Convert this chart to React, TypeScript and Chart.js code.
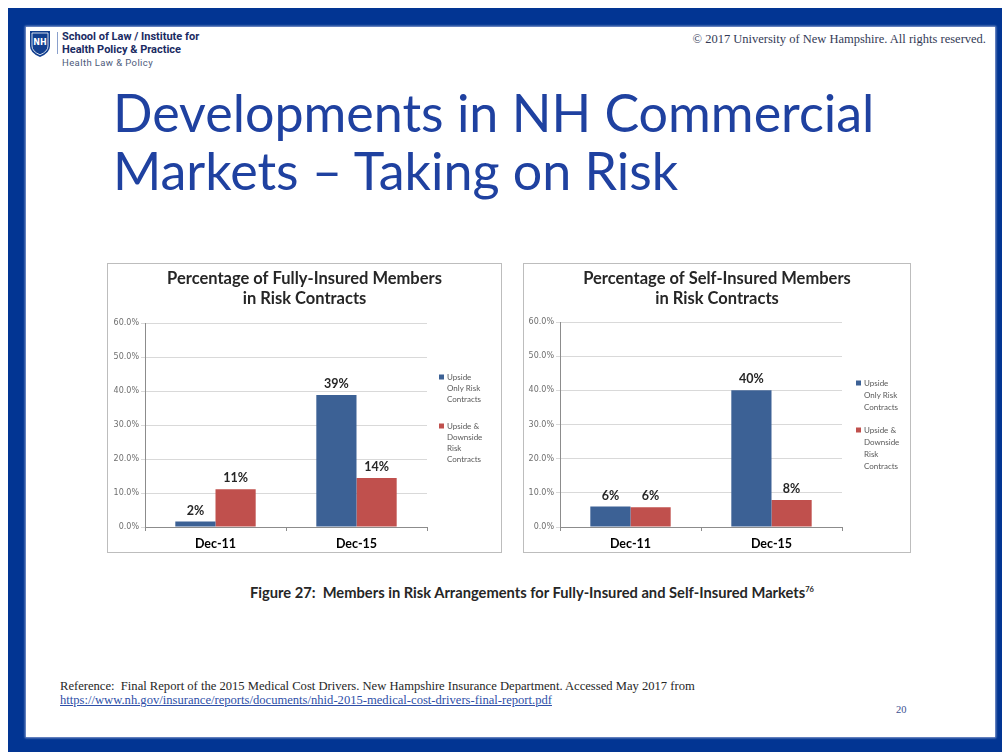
import React, { useEffect, useRef } from "react";
import { Chart, registerables } from "chart.js";

Chart.register(...registerables);

// ---------- data ----------
const categories = ["Dec-11", "Dec-15"];
const seriesNames = ["Upside Only Risk Contracts", "Upside & Downside Risk Contracts"];
const legendLinesOnly = ["Upside", "Only Risk", "Contracts"];
const legendLinesBoth = ["Upside &", "Downside", "Risk", "Contracts"];
const fullyUpsideOnly = [1.6, 38.8];
const fullyUpsideDownside = [11.1, 14.4];
const selfUpsideOnly = [6.0, 40.0];
const selfUpsideDownside = [5.8, 7.9];
const yMin = 0;
const yMax = 60;
const yStep = 10;
const fullyTitle = ["Percentage of Fully-Insured Members", "in Risk Contracts"];
const selfTitle = ["Percentage of Self-Insured Members", "in Risk Contracts"];

const BLUE = "#3c6195";
const RED = "#c0504d";
const FONT = "Lato, 'Open Sans', sans-serif";

type Geo = {
  width: number;
  height: number;
  plotLeft: number;
  plotRight: number;
  plotTop: number;
  xAxisH: number;
  legendX: number;
  legendItemY: number[];
  legendLH: number;
};

function makeDecor(title: string[], geo: Geo) {
  return {
    id: "decor",
    afterDraw(chart: any) {
      const ctx: CanvasRenderingContext2D = chart.ctx;
      ctx.save();
      // title
      ctx.fillStyle = "#262626";
      ctx.font = `bold 16.5px ${FONT}`;
      ctx.textAlign = "center";
      ctx.textBaseline = "alphabetic";
      title.forEach((line, i) => ctx.fillText(line, chart.width / 2, 20 + i * 20));
      // data labels
      ctx.font = `bold 12.5px ${FONT}`;
      chart.data.datasets.forEach((ds: any, di: number) => {
        const meta = chart.getDatasetMeta(di);
        meta.data.forEach((bar: any, i: number) => {
          ctx.fillText(Math.round(ds.data[i]) + "%", bar.x, bar.y - 7);
        });
      });
      // legend
      const items = [
        { color: BLUE, lines: legendLinesOnly },
        { color: RED, lines: legendLinesBoth },
      ];
      ctx.textAlign = "left";
      ctx.textBaseline = "middle";
      ctx.font = `8px ${FONT}`;
      items.forEach((it, k) => {
        const y0 = geo.legendItemY[k];
        ctx.fillStyle = it.color;
        ctx.fillRect(geo.legendX, y0 - 2.5, 5, 5);
        ctx.fillStyle = "#595959";
        it.lines.forEach((ln, j) => ctx.fillText(ln, geo.legendX + 8, y0 + j * geo.legendLH));
      });
      ctx.restore();
    },
  };
}

function buildConfig(title: string[], blue: number[], red: number[], geo: Geo): any {
  return {
    type: "bar",
    data: {
      labels: categories,
      datasets: [
        { label: seriesNames[0], data: blue, backgroundColor: BLUE, borderWidth: 0 },
        { label: seriesNames[1], data: red, backgroundColor: RED, borderWidth: 0 },
      ],
    },
    options: {
      responsive: false,
      animation: false,
      devicePixelRatio: 1,
      layout: {
        padding: {
          top: geo.plotTop,
          right: geo.width - geo.plotRight,
          bottom: 0,
          left: 0,
        },
      },
      datasets: { bar: { categoryPercentage: 0.57, barPercentage: 1 } },
      plugins: {
        legend: { display: false },
        title: { display: false },
        tooltip: { enabled: false },
      },
      scales: {
        x: {
          grid: {
            display: true,
            drawOnChartArea: false,
            drawTicks: true,
            tickLength: 4,
            color: "#8c8c8c",
            offset: true,
          },
          border: { display: true, color: "#8c8c8c" },
          ticks: {
            font: { family: FONT, size: 12.5, weight: "bold" },
            color: "#000000",
            padding: 5,
          },
          afterFit: (s: any) => {
            s.height = geo.xAxisH;
          },
        },
        y: {
          min: yMin,
          max: yMax,
          grid: { color: "#d9d9d9", tickLength: 4, drawTicks: true },
          border: { display: true, color: "#8c8c8c" },
          ticks: {
            stepSize: yStep,
            padding: 2,
            color: "#6e6e6e",
            font: { family: "'DejaVu Sans', sans-serif", size: 8 },
            callback: (v: any) => Number(v).toFixed(1) + "%",
          },
          afterFit: (s: any) => {
            s.width = geo.plotLeft;
          },
        },
      },
    },
    plugins: [makeDecor(title, geo)],
  };
}

function ChartBox(props: {
  left: number;
  top: number;
  geo: Geo;
  title: string[];
  blue: number[];
  red: number[];
}) {
  const ref = useRef<HTMLCanvasElement | null>(null);
  const { geo } = props;
  useEffect(() => {
    if (!ref.current) return;
    const chart = new Chart(ref.current, buildConfig(props.title, props.blue, props.red, geo));
    return () => chart.destroy();
  }, []);
  return (
    <div
      style={{
        position: "absolute",
        left: props.left,
        top: props.top,
        width: geo.width + 2,
        height: geo.height + 2,
        border: "1px solid #bdbdbd",
        boxSizing: "border-box",
        background: "#fff",
      }}
    >
      <canvas
        ref={ref}
        width={geo.width}
        height={geo.height}
        style={{ display: "block", width: geo.width, height: geo.height }}
      />
    </div>
  );
}

const leftGeo: Geo = {
  width: 393,
  height: 288,
  plotLeft: 37,
  plotRight: 319,
  plotTop: 59,
  xAxisH: 25,
  legendX: 331,
  legendItemY: [113, 162],
  legendLH: 11,
};

const rightGeo: Geo = {
  width: 386,
  height: 288,
  plotLeft: 36,
  plotRight: 318,
  plotTop: 58,
  xAxisH: 25,
  legendX: 332,
  legendItemY: [119, 166],
  legendLH: 12,
};

const abs = (s: React.CSSProperties): React.CSSProperties => ({
  position: "absolute",
  whiteSpace: "nowrap",
  margin: 0,
  ...s,
});

export default function App() {
  return (
    <div
      style={{
        position: "fixed",
        left: 0,
        top: 0,
        width: 1002,
        height: 752,
        background: "#ffffff",
        overflow: "hidden",
      }}
    >
      {/* blue frame */}
      <div style={abs({ left: 8, top: 8, width: 994, height: 744, background: "#023593" })} />
      <div
        style={abs({
          left: 26,
          top: 27,
          width: 969,
          height: 710,
          background: "#ffffff",
          boxShadow: "0 0 2px 1px #8ea3d0",
        })}
      />

      {/* logo */}
      <svg style={abs({ left: 30, top: 31 })} width={20} height={26} viewBox="0 0 20 26">
        <path d="M0 0 H20 V15 Q20 22 10 26 Q0 22 0 15 Z" fill="#123f8f" />
        <path d="M2 2 H18 V15 Q18 20.5 10 23.8 Q2 20.5 2 15 Z" fill="none" stroke="#ffffff" strokeWidth={0.8} />
        <text x={10} y={14} textAnchor="middle" fontFamily="'DejaVu Sans', sans-serif" fontWeight="bold" fontSize={8} fill="#ffffff">
          NH
        </text>
      </svg>
      <div style={abs({ left: 57, top: 32, width: 1, height: 22, background: "#8aa0cc" })} />
      <div
        style={abs({
          left: 62,
          top: 30,
          fontFamily: "'Liberation Sans Narrow', 'Roboto', sans-serif",
          fontWeight: "bold",
          fontSize: 11,
          lineHeight: "13px",
          color: "#1a2b63",
          letterSpacing: 0,
        })}
      >
        <div>School of Law / Institute for</div>
        <div>Health Policy &amp; Practice</div>
        <div style={{ fontWeight: "normal", fontSize: 9.5, color: "#4d5a7a", letterSpacing: 0.4 }}>
          Health Law &amp; Policy
        </div>
      </div>
      <div
        style={abs({
          right: 1002 - 986,
          top: 32,
          fontFamily: "'Liberation Serif', serif",
          fontSize: 12.5,
          color: "#333a55",
        })}
      >
        © 2017 University of New Hampshire. All rights reserved.
      </div>

      {/* slide title */}
      <div
        style={abs({
          left: 113,
          top: 83,
          fontFamily: FONT,
          fontSize: 52,
          lineHeight: "58px",
          color: "#1f41a0",
        })}
      >
        <div>Developments in NH Commercial</div>
        <div>Markets – Taking on Risk</div>
      </div>

      {/* charts */}
      <ChartBox left={107} top={263} geo={leftGeo} title={fullyTitle} blue={fullyUpsideOnly} red={fullyUpsideDownside} />
      <ChartBox left={523} top={263} geo={rightGeo} title={selfTitle} blue={selfUpsideOnly} red={selfUpsideDownside} />

      {/* caption */}
      <div
        style={abs({
          left: 250,
          top: 583,
          fontFamily: FONT,
          fontWeight: "bold",
          fontSize: 14.7,
          color: "#262626",
        })}
      >
        Figure 27:&nbsp; Members in Risk Arrangements for Fully-Insured and Self-Insured Markets
        <sup style={{ fontSize: 7.5 }}>76</sup>
      </div>

      {/* reference */}
      <div
        style={abs({
          left: 60,
          top: 679,
          fontFamily: "'Liberation Serif', serif",
          fontSize: 12.6,
          lineHeight: "14px",
          color: "#262626",
        })}
      >
        <div>
          Reference:&nbsp; Final Report of the 2015 Medical Cost Drivers. New Hampshire Insurance Department. Accessed May
          2017 from
        </div>
        <div style={{ color: "#2e4fa8", textDecoration: "underline" }}>
          https://www.nh.gov/insurance/reports/documents/nhid-2015-medical-cost-drivers-final-report.pdf
        </div>
      </div>
      <div
        style={abs({
          left: 896,
          top: 704,
          fontFamily: "'Liberation Serif', serif",
          fontSize: 10.5,
          color: "#3a4f8f",
        })}
      >
        20
      </div>
    </div>
  );
}
